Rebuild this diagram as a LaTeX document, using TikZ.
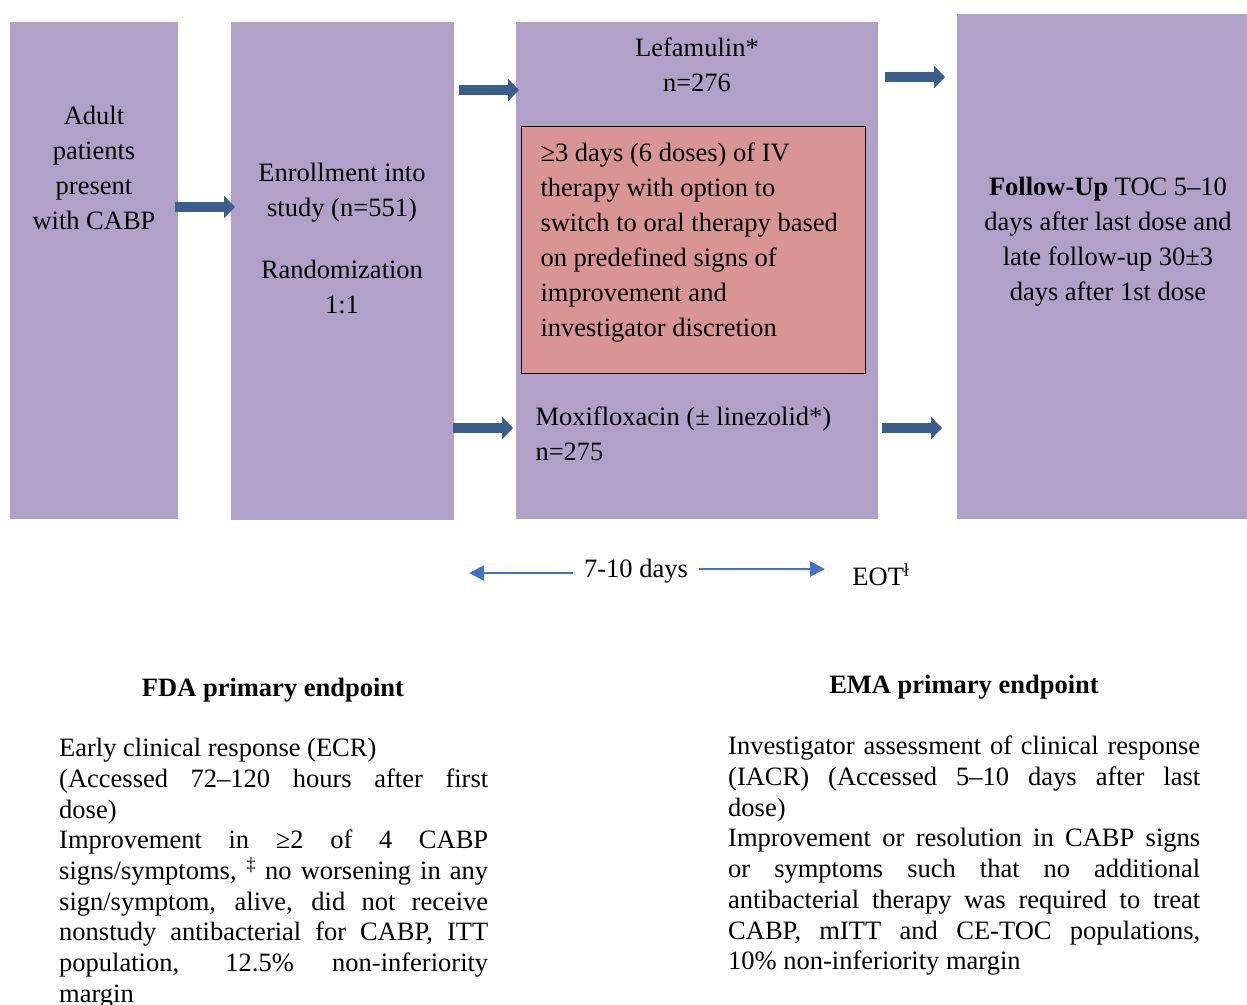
\documentclass[tikz,border=0pt]{standalone}
\usepackage{fontspec}
\setmainfont{Liberation Serif}
\usetikzlibrary{arrows.meta}
\definecolor{boxlilac}{RGB}{177,161,201}
\definecolor{therapyred}{RGB}{217,149,148}
\definecolor{arrownavy}{RGB}{57,94,139}
\definecolor{lineblue}{RGB}{68,114,196}
\newcommand{\jline}[2]{\makebox[#1][s]{#2}}

\begin{document}
\begin{tikzpicture}[x=1pt,y=-1pt,
	box/.style={fill=boxlilac, inner sep=0pt, anchor=north west},
	boxtext/.style={align=center, font=\fontsize{26.5}{35}\selectfont},
	fatarrow/.style={draw=arrownavy, line width=10pt, -{Triangle[length=11pt,width=22pt]}},
	tline/.style={draw=lineblue, line width=2pt, -{Triangle[length=15pt,width=15pt]}},
	endtext/.style={align=left, inner sep=0pt, anchor=north west, font=\fontsize{26.5}{30.7}\selectfont}]

	% parameters
	\def\fdawidth{429pt}
	\def\emawidth{472pt}

	\useasboundingbox (0,0) rectangle (1247,1004);

	% boxes
	\node[box, minimum width=168, minimum height=497] (adult) at (10,22) {};
	\node[box, minimum width=223, minimum height=498] (enrol) at (231,22) {};
	\node[box, minimum width=362, minimum height=497] (treat) at (516,22) {};
	\node[box, minimum width=290, minimum height=505] (follow) at (957,14) {};
	\node[box, fill=therapyred, draw=black, line width=1pt,
		minimum width=344, minimum height=247] (iv) at (521,126) {};

	% box texts
	\node[boxtext] (adulttxt) at (94,168) {Adult\\patients\\present\\with CABP};
	\node[boxtext] (enroltxt) at (342,238)
		{Enrollment into\\study (n=551)\\[27pt]Randomization\\1:1};
	\node[boxtext] (lefa) at (697,64.5) {Lefamulin*\\n=276};
	\node[boxtext, align=left, anchor=west] (ivtxt) at (537,242.5)
		{≥3 days (6 doses) of IV\\therapy with option to\\switch to oral therapy based\\on predefined signs of\\improvement and\\investigator discretion};
	\node[boxtext, align=left, anchor=west] (moxi) at (532,434)
		{Moxifloxacin (± linezolid*)\\n=275};
	\node[boxtext] (followtxt) at (1108,241.5)
		{\textbf{Follow-Up} TOC 5–10\\days after last dose and\\late follow-up 30±3\\days after 1st dose};

	% arrow ends
	\coordinate (a1s) at (175,207);
	\coordinate (a1e) at (235,207);
	\coordinate (a2s) at (459,90);
	\coordinate (a2e) at (519,90);
	\coordinate (a3s) at (453,428);
	\coordinate (a3e) at (513,428);
	\coordinate (a4s) at (885,77);
	\coordinate (a4e) at (945,77);
	\coordinate (a5s) at (882,428);
	\coordinate (a5e) at (942,428);

	% block arrows
	\draw[fatarrow] (a1s) -- (a1e);
	\draw[fatarrow] (a2s) -- (a2e);
	\draw[fatarrow] (a3s) -- (a3e);
	\draw[fatarrow] (a4s) -- (a4e);
	\draw[fatarrow] (a5s) -- (a5e);

	% time line
	\node[font=\fontsize{26.5}{30}\selectfont, inner xsep=11pt] (days) at (636,571) {7-10 days};
	\node[font=\fontsize{26.5}{30}\selectfont] (eot) at (881,575) {EOT\textsuperscript{ł}};
	\coordinate (tl) at (469,573);
	\coordinate (tr) at (825,569);
	\draw[tline] (days.west |- tl) -- (tl);
	\draw[tline] (days.east |- tr) -- (tr);

	% endpoints
	\node[font=\fontsize{26.5}{30}\selectfont\bfseries] (fda) at (273,690) {FDA primary endpoint};
	\node[font=\fontsize{26.5}{30}\selectfont\bfseries] (ema) at (964,687) {EMA primary endpoint};

	\node[endtext] (fdatxt) at (59,738) {%
		Early clinical response (ECR)\\
		\jline{\fdawidth}{(Accessed 72–120 hours after first}\\
		dose)\\
		\jline{\fdawidth}{Improvement in ≥2 of 4 CABP}\\
		\jline{\fdawidth}{signs/symptoms, \textsuperscript{‡} no worsening in any}\\
		\jline{\fdawidth}{sign/symptom, alive, did not receive}\\
		\jline{\fdawidth}{nonstudy antibacterial for CABP, ITT}\\
		\jline{\fdawidth}{population, 12.5\% non-inferiority}\\
		margin};

	\node[endtext] (ematxt) at (728,736) {%
		\jline{\emawidth}{Investigator assessment of clinical response}\\
		\jline{\emawidth}{(IACR) (Accessed 5–10 days after last}\\
		dose)\\
		\jline{\emawidth}{Improvement or resolution in CABP signs}\\
		\jline{\emawidth}{or symptoms such that no additional}\\
		\jline{\emawidth}{antibacterial therapy was required to treat}\\
		\jline{\emawidth}{CABP, mITT and CE-TOC populations,}\\
		10\% non-inferiority margin};

\end{tikzpicture}
\end{document}
